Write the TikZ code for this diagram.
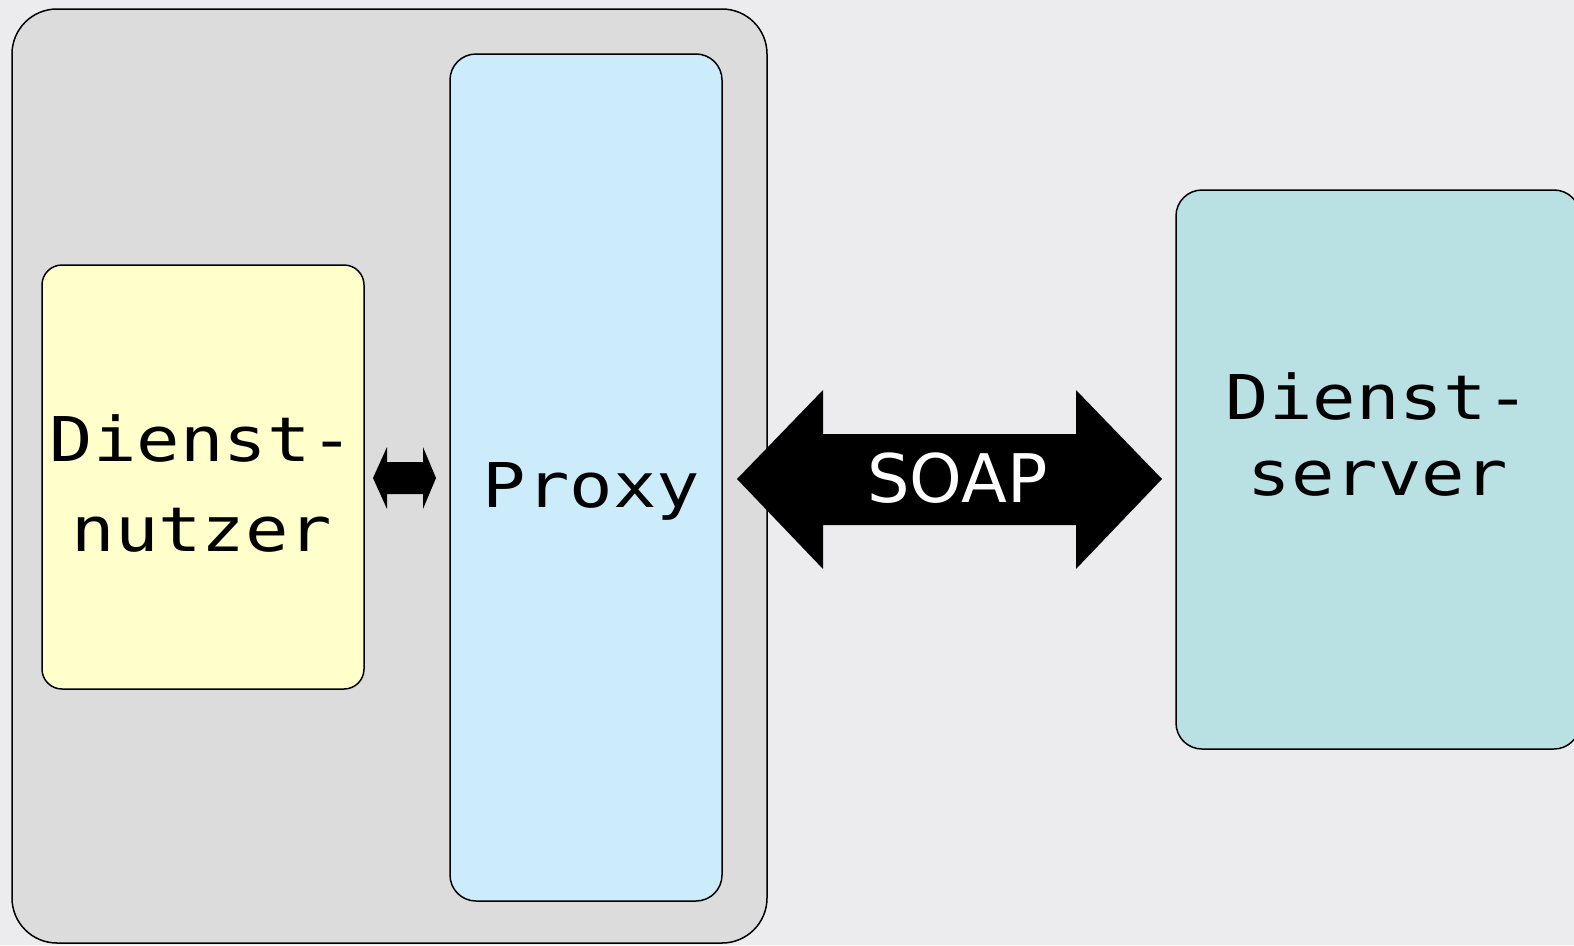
\documentclass[tikz,border=0pt]{standalone}
\usepackage{fontspec}
\usetikzlibrary{calc}
\newfontfamily\monolabel[FakeStretch=1.17]{DejaVu Sans Mono}
\newfontfamily\soapfont{DejaVu Sans}
\definecolor{bgcol}{HTML}{ECECEE}
\definecolor{outercol}{HTML}{DCDCDC}
\definecolor{proxycol}{HTML}{CCECFC}
\definecolor{nutzercol}{HTML}{FFFFCC}
\definecolor{servercol}{HTML}{B9E0E3}
\begin{document}
\begin{tikzpicture}[x=1pt,y=-1pt,
  boxstyle/.style={draw=black,line width=1.5pt},
  labelstyle/.style={inner sep=0pt,align=center,font=\monolabel\fontsize{61.7}{90}\selectfont},
  arrowfill/.style={fill=black}]
\fill[bgcol] (0,0) rectangle (1574,945);
\useasboundingbox (0,0) rectangle (1574,945);
% outer client box
\draw[boxstyle,fill=outercol,rounded corners=45pt] (12,9) rectangle (767,943);
% boxes
\draw[boxstyle,fill=nutzercol,rounded corners=20pt] (42,265) rectangle (364,689);
\draw[boxstyle,fill=proxycol,rounded corners=26pt] (450,54) rectangle (722,901);
\draw[boxstyle,fill=servercol,rounded corners=26pt] (1176,190) rectangle (1580,749);
\coordinate (nutzerE) at (364,478);
\coordinate (proxyW) at (450,478);
\coordinate (proxyE) at (722,478);
\coordinate (serverW) at (1176,478);
% labels
\node[labelstyle] (nutzer) at (202,483) {Dienst-\\nutzer};
\node[labelstyle,font=\monolabel\fontsize{61.7}{76}\selectfont] (server) at (1378,434) {Dienst-\\server};
\node[labelstyle] (proxy) at (591.5,507) {\smash{Proxy}};
% small double arrow between nutzer and proxy
\fill[arrowfill] ($(nutzerE)+(9,0)$) -- (387,447) -- (387,462) -- (423,462) -- (423,447)
  -- ($(proxyW)+(-14,0)$) -- (423,509) -- (423,494) -- (387,494) -- (387,509) -- cycle;
% SOAP double arrow
\fill[arrowfill] ($(proxyE)+(15,1)$) -- (823,390) -- (823,434) -- (1076,434) -- (1076,390)
  -- ($(serverW)+(-14,1)$) -- (1076,569) -- (1076,525) -- (823,525) -- (823,569) -- cycle;
\node[text=white,inner sep=0pt,font=\soapfont\fontsize{67}{80}\selectfont] (soap) at (957.5,502) {\smash{SOAP}};
\end{tikzpicture}
\end{document}
